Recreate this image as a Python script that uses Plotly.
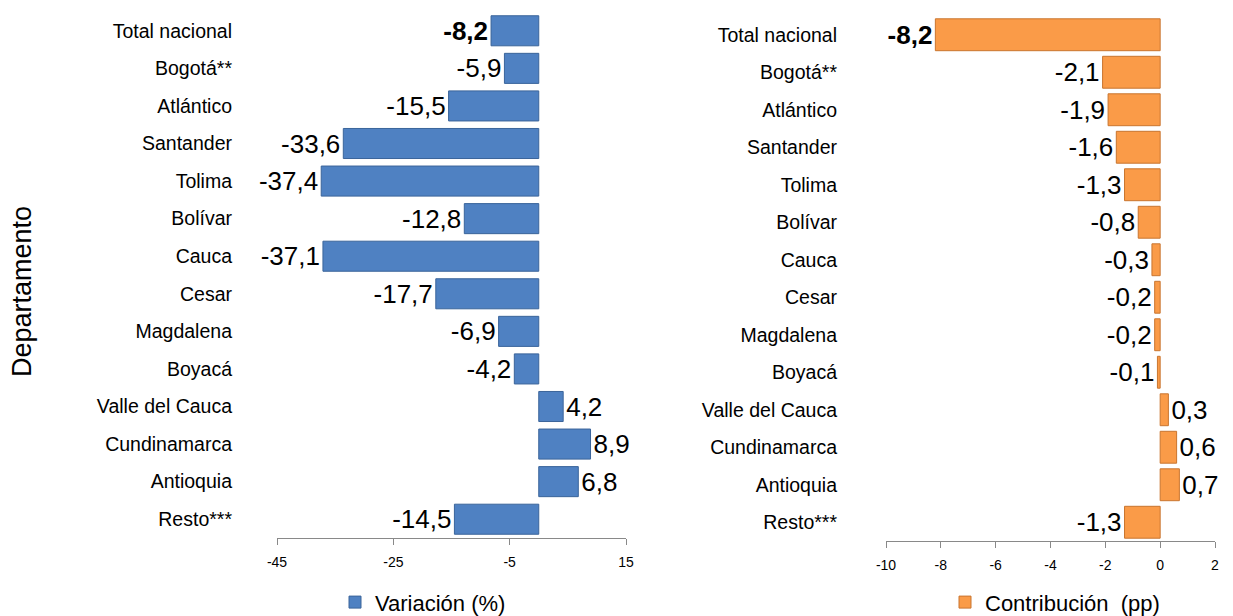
import plotly.graph_objects as go

# Datos
departamentos = ["Total nacional", "Bogotá**", "Atlántico", "Santander", "Tolima",
                 "Bolívar", "Cauca", "Cesar", "Magdalena", "Boyacá",
                 "Valle del Cauca", "Cundinamarca", "Antioquia", "Resto***"]
variacion = [-8.2, -5.9, -15.5, -33.6, -37.4, -12.8, -37.1, -17.7, -6.9, -4.2, 4.2, 8.9, 6.8, -14.5]
contribucion = [-8.2, -2.1, -1.9, -1.6, -1.3, -0.8, -0.3, -0.2, -0.2, -0.1, 0.3, 0.6, 0.7, -1.3]
ticks_var = [-45, -25, -5, 15]
ticks_con = [-10, -8, -6, -4, -2, 0, 2]


def etiquetas(valores):
    txt = [f"{v:.1f}".replace(".", ",") for v in valores]
    txt[0] = "<b>" + txt[0] + "</b>"
    return txt


# la pagina tiene 8px de margen en el body
OFF = 8
W, H = 1233 - OFF, 616 - OFF


def px_x(p):
    return (p - OFF) / W


def px_y(p):
    return 1 - (p - OFF) / H


gris = "#898989"
fuente = "Liberation Sans, Arial, sans-serif"

fig = go.Figure()

fig.add_trace(go.Bar(
    y=departamentos, x=variacion, orientation="h", name="Variación (%)",
    xaxis="x", yaxis="y", width=0.8,
    marker=dict(color="#4F81C2", line=dict(color="#3A649A", width=1)),
    text=etiquetas(variacion), textposition="outside", constraintext="none",
    textfont=dict(size=26, color="black"), cliponaxis=False,
    legend="legend",
))

fig.add_trace(go.Bar(
    y=departamentos, x=contribucion, orientation="h", name="Contribución  (pp)",
    xaxis="x2", yaxis="y2", width=0.85,
    marker=dict(color="#FA9B48", line=dict(color="#C9752F", width=1)),
    text=etiquetas(contribucion), textposition="outside", constraintext="none",
    textfont=dict(size=26, color="black"), cliponaxis=False,
    legend="legend2",
))

eje_x = dict(showline=True, linecolor=gris, ticks="outside", ticklen=6, tickcolor=gris,
             showgrid=False, zeroline=False, automargin=False, ticklabelstandoff=5,
             tickfont=dict(size=14, color="black"))
eje_y = dict(type="category", autorange="reversed", showline=False, ticks="",
             showgrid=False, automargin=False, tickfont=dict(size=19.5, color="black"))
eje_cero = dict(type="category", anchor="free", side="left", showline=True,
                linecolor=gris, ticks="outside", ticklen=5, tickcolor=gris,
                tickson="boundaries", showticklabels=False, showgrid=False, automargin=False)

fig.update_layout(
    width=W, height=H,
    margin=dict(l=0, r=0, t=0, b=0, autoexpand=False),
    plot_bgcolor="white", paper_bgcolor="white",
    font=dict(family=fuente, color="black"),
    xaxis=dict(eje_x, domain=[px_x(277), px_x(626)], range=[-45, 15], anchor="y",
               tickvals=ticks_var, ticktext=[str(v) for v in ticks_var]),
    yaxis=dict(eje_y, domain=[px_y(538), px_y(12)], anchor="x", ticklabelstandoff=44),
    yaxis3=dict(eje_cero, overlaying="y", matches="y", position=px_x(540)),
    xaxis2=dict(eje_x, domain=[px_x(886), px_x(1215)], range=[-10, 2], anchor="y2",
                tickvals=ticks_con, ticktext=[str(v) for v in ticks_con]),
    yaxis2=dict(eje_y, domain=[px_y(541), px_y(16)], anchor="x2", ticklabelstandoff=48),
    yaxis4=dict(eje_cero, overlaying="y2", matches="y2", position=px_x(1160)),
    showlegend=True,
    legend=dict(x=px_x(380 - 45), y=-0.012, xanchor="left", yanchor="bottom",
                font=dict(size=22), bgcolor="rgba(0,0,0,0)"),
    legend2=dict(x=px_x(990 - 45), y=-0.012, xanchor="left", yanchor="bottom",
                 font=dict(size=22), bgcolor="rgba(0,0,0,0)"),
    annotations=[dict(text="Departamento", x=px_x(22), y=px_y(292), xref="paper", yref="paper",
                      xanchor="center", yanchor="middle", textangle=-90, showarrow=False,
                      font=dict(size=27, color="black"))],
)

fig.write_html("out.html")
